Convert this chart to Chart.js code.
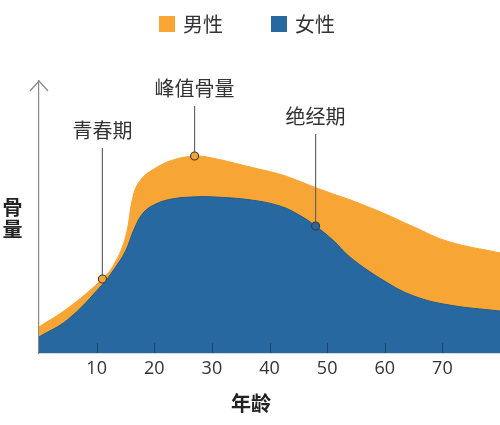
<!DOCTYPE html>
<html>
<head>
<meta charset="utf-8">
<script src="https://cdn.jsdelivr.net/npm/chart.js@4.4.0/dist/chart.umd.min.js"></script>
<style>
  html, body { margin: 0; padding: 0; background: #fff; }
  #wrap { width: 500px; height: 425px; position: relative; }
</style>
</head>
<body>
<div id="wrap"><canvas id="grafica"></canvas></div>
<script>
// --- datos ---
const ages = [0, 5, 11, 13, 15, 16.5, 18, 20, 23, 27, 30, 37, 42, 45, 48, 51, 54, 60, 65, 71, 80];
const maleValues = [9.6, 16.5, 27.2, 32.5, 42.5, 59, 64.5, 67.7, 70.8, 72.4, 71.7, 68.2, 65.6, 63.3, 60.8, 58.5, 56.3, 51.2, 46.4, 41, 36.8];
const femaleValues = [5.9, 12.3, 25.2, 30.7, 37.4, 45.5, 51.3, 54.5, 56.6, 57.4, 57.4, 56.2, 53.9, 50.9, 46.7, 41.5, 35.2, 26.4, 21, 17.7, 15.4];
const seriesLabels = ['男性', '女性'];
const xTicks = [10, 20, 30, 40, 50, 60, 70];

// notas: etiqueta, edad y serie (0 = hombres, 1 = mujeres)
const noteLabels = ['青春期', '峰值骨量', '绝经期'];
const noteAges = [11, 27, 48];
const noteSeries = [0, 0, 1];

const ORANGE = '#f7a534';
const BLUE = '#2768a0';
const CJK = '"Noto Sans CJK SC", "Noto Sans", sans-serif';

// --- plugin para flecha, marcas, títulos, leyenda y notas ---
const extras = {
    id: 'extras',
    afterDatasetsDraw(chart, args, opts) {
        const ctx = chart.ctx;
        const xs = chart.scales.x;
        const area = chart.chartArea;
        ctx.save();

        // marcas del eje x (hacia dentro)
        ctx.strokeStyle = 'rgba(35,45,60,0.65)';
        ctx.lineWidth = 1;
        xTicks.forEach(v => {
            const px = Math.round(xs.getPixelForValue(v)) + 0.5;
            ctx.beginPath();
            ctx.moveTo(px, area.bottom - 10);
            ctx.lineTo(px, area.bottom);
            ctx.stroke();
        });

        // notas con línea guía
        ctx.font = '20px ' + CJK;
        ctx.textAlign = 'center';
        ctx.textBaseline = 'middle';
        noteLabels.forEach((txt, i) => {
            const s = noteSeries[i];
            const idx = ages.indexOf(noteAges[i]);
            const pt = chart.getDatasetMeta(s).data[idx];
            const ty = opts.noteTextY[i];
            ctx.strokeStyle = '#666';
            ctx.lineWidth = 1.2;
            ctx.beginPath();
            ctx.moveTo(pt.x, ty + 18);
            ctx.lineTo(pt.x, pt.y - 4);
            ctx.stroke();
            ctx.beginPath();
            ctx.arc(pt.x, pt.y, 4, 0, Math.PI * 2);
            ctx.fillStyle = chart.data.datasets[s].backgroundColor;
            ctx.fill();
            ctx.strokeStyle = '#3a3a3a';
            ctx.lineWidth = 1.1;
            ctx.stroke();
            ctx.fillStyle = '#333';
            ctx.fillText(txt, pt.x, ty);
        });
        ctx.restore();
    },
    afterDraw(chart, args, opts) {
        const ctx = chart.ctx;
        const area = chart.chartArea;
        ctx.save();

        // flecha del eje y
        ctx.strokeStyle = '#888';
        ctx.lineWidth = 1.2;
        ctx.beginPath();
        ctx.moveTo(area.left - 9, area.top + 10);
        ctx.lineTo(area.left, area.top);
        ctx.lineTo(area.left + 9, area.top + 10);
        ctx.stroke();

        // títulos de ejes
        ctx.fillStyle = '#222';
        ctx.font = 'bold 20px ' + CJK;
        ctx.textAlign = 'center';
        ctx.textBaseline = 'middle';
        ctx.fillText('年龄', 251, 403);
        ctx.fillText('骨', 12.5, 207);
        ctx.fillText('量', 12.5, 229);

        // leyenda
        ctx.font = '20px ' + CJK;
        ctx.textAlign = 'left';
        let x = opts.legendX;
        chart.data.datasets.forEach(ds => {
            ctx.fillStyle = ds.backgroundColor;
            ctx.fillRect(x, 16, 16, 16);
            ctx.fillStyle = '#333';
            ctx.fillText(ds.label, x + 24, 24);
            x += 24 + ctx.measureText(ds.label).width + 48;
        });
        ctx.restore();
    }
};

const ctx = document.getElementById('grafica').getContext('2d');

new Chart(ctx, {
    type: 'line',
    data: {
        datasets: [{
            label: seriesLabels[0],
            data: ages.map((a, i) => ({ x: a, y: maleValues[i] })),
            backgroundColor: ORANGE,
            borderColor: ORANGE,
            borderWidth: 1,
            fill: 'origin',
            order: 2
        }, {
            label: seriesLabels[1],
            data: ages.map((a, i) => ({ x: a, y: femaleValues[i] })),
            backgroundColor: BLUE,
            borderColor: '#215c8f',
            borderWidth: 1,
            fill: 'origin',
            order: 1
        }]
    },
    options: {
        responsive: true,
        maintainAspectRatio: false,
        animation: false,
        elements: {
            line: { tension: 0.4 },
            point: { radius: 0, hoverRadius: 0 }
        },
        layout: { padding: { top: 81, left: 0, right: 0, bottom: 0 } },
        plugins: {
            legend: { display: false },
            tooltip: { enabled: false },
            extras: { legendX: 159, noteTextY: [130, 88, 116] }
        },
        scales: {
            x: {
                type: 'linear',
                min: 0,
                max: 80,
                afterBuildTicks: scale => { scale.ticks = xTicks.map(v => ({ value: v })); },
                afterFit: scale => { scale.height = 72; },
                grid: { display: false, drawTicks: false },
                border: { display: true, color: '#5a6470', width: 1.2 },
                ticks: {
                    padding: 5,
                    color: '#333',
                    font: { family: '"Open Sans", sans-serif', size: 18 }
                }
            },
            y: {
                min: 0,
                max: 100,
                afterFit: scale => { scale.width = 39; },
                grid: { display: false, drawTicks: false },
                border: { display: true, color: '#888', width: 1.2 },
                ticks: { display: false }
            }
        }
    },
    plugins: [extras]
});
</script>
</body>
</html>
